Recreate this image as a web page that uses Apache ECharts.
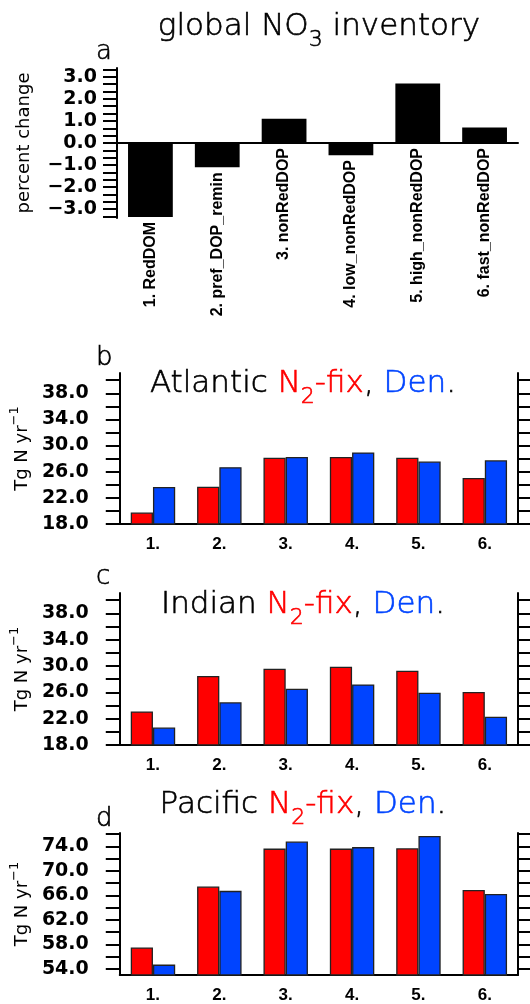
<!DOCTYPE html>
<html><head><meta charset="utf-8">
<script src="https://cdn.jsdelivr.net/npm/echarts@6/dist/echarts.min.js"></script>
<style>html,body{margin:0;padding:0;background:#fff}#c{width:530px;height:1004px}</style>
</head><body><div id="c"></div>
<script>
// ---- data ----
const experiments = ['1. RedDOM', '2. pref_DOP_remin', '3. nonRedDOP', '4. low_nonRedDOP', '5. high_nonRedDOP', '6. fast_nonRedDOP'];
const shortLabels = ['1.', '2.', '3.', '4.', '5.', '6.'];
const inventoryChange = [-3.35, -1.1, 1.1, -0.55, 2.7, 0.7];
const atlanticN2fix = [19.75, 23.7, 28.15, 28.25, 28.15, 25.05];
const atlanticDen   = [23.65, 26.7, 28.25, 28.95, 27.55, 27.75];
const indianN2fix   = [23.1, 28.5, 29.6, 29.9, 29.3, 26.05];
const indianDen     = [20.65, 24.5, 26.55, 27.2, 25.95, 22.3];
const pacificN2fix  = [57.5, 67.45, 73.65, 73.65, 73.7, 66.9];
const pacificDen    = [54.7, 66.75, 74.8, 73.9, 75.7, 66.25];
const inventoryTicks  = [-3.333, -3.0, -2.667, -2.333, -2.0, -1.667, -1.333, -1.0, -0.667, -0.333, 0, 0.333, 0.667, 1.0, 1.333, 1.667, 2.0, 2.333, 2.667, 3.0, 3.333];
const inventoryLabels = [-3, -2, -1, 0, 1, 2, 3];
const basinTicks   = [18, 20, 22, 24, 26, 28, 30, 32, 34, 36, 38, 40];
const basinLabels  = [18, 22, 26, 30, 34, 38];
const pacificTicks  = [54, 56, 58, 60, 62, 64, 66, 68, 70, 72, 74, 76];
const pacificLabels = [54, 58, 62, 66, 70, 74];

// ---- styles ----
const RED = '#ff0000', BLUE = '#0044ff';
const THIN = 'DejaVu Sans';
const fmt = v => (v < 0 ? '\u2212' : '') + Math.abs(v).toFixed(1);
const L = 117, R = 12;
const grids = [
  {left: L, right: R, top: 68, height: 150},
  {left: L, right: R, top: 373, height: 151},
  {left: L, right: R, top: 593, height: 152},
  {left: L, right: R, top: 833, height: 152}
];
const nameRich = {
  m: {fontFamily: THIN, fontSize: 18, color: '#000', lineHeight: 21, verticalAlign: 'top', padding: [5, 0, 0, 0]},
  s: {fontFamily: THIN, fontSize: 13, color: '#000', lineHeight: 15, verticalAlign: 'top'}
};
function leftAxis(gi, min, max, ticks, labels, name, margin, gap) {
  return {
    type: 'value', gridIndex: gi, position: 'left', min: min, max: max,
    axisLine: {show: true, onZero: false, lineStyle: {color: '#000', width: 2}},
    axisTick: {show: true, inside: false, length: 14, customValues: ticks, lineStyle: {color: '#000', width: 2}},
    axisLabel: {show: true, customValues: labels, formatter: fmt, margin: margin,
      fontFamily: 'DejaVu Sans', fontWeight: 'bold', fontSize: 19, color: '#000'},
    splitLine: {show: false},
    name: name, nameLocation: 'middle', nameRotate: 90, nameGap: gap,
    nameTextStyle: {rich: nameRich, fontFamily: THIN, fontSize: 18, color: '#000'}
  };
}
function rightAxis(gi, min, max, ticks) {
  return {
    type: 'value', gridIndex: gi, position: 'right', min: min, max: max,
    axisLine: {show: true, onZero: false, lineStyle: {color: '#000', width: 2}},
    axisTick: {show: true, inside: false, length: 13, customValues: ticks, lineStyle: {color: '#000', width: 2}},
    axisLabel: {show: false}, splitLine: {show: false}
  };
}
function bottomAxis(gi) {
  return {
    type: 'category', gridIndex: gi, data: shortLabels,
    axisLine: {show: true, onZero: false, lineStyle: {color: '#000', width: 2}},
    axisTick: {show: false},
    axisLabel: {margin: 12, fontFamily: 'Liberation Sans', fontWeight: 'bold', fontSize: 17, color: '#000'},
    splitLine: {show: false}
  };
}
const barStyle = c => ({color: c, borderColor: '#222', borderWidth: 1.3});
function pair(gi, a, b) {
  return [
    {type: 'bar', xAxisIndex: gi, yAxisIndex: 2 * gi - 1, data: a, barGap: '0%', barCategoryGap: '33%', itemStyle: barStyle(RED), silent: true},
    {type: 'bar', xAxisIndex: gi, yAxisIndex: 2 * gi - 1, data: b, barGap: '0%', barCategoryGap: '33%', itemStyle: barStyle(BLUE), silent: true}
  ];
}
const tok = (color, size, extra) => Object.assign({fontFamily: THIN, fontWeight: 200, fontSize: size, color: color,
  textBorderColor: color, textBorderWidth: 0.6, lineHeight: 36, verticalAlign: 'top'}, extra || {});
const titleRich = (size, sub) => ({
  k: tok('#000', size),
  r: tok(RED, size),
  b: tok(BLUE, size),
  rs: tok(RED, 22, {lineHeight: 22, padding: [sub, 0, 0, 0]}),
  ks: tok('#000', 22, {lineHeight: 22, padding: [sub, 0, 0, 0]})
});
function titleItem(text, x, y, size) {
  return {text: text, left: x, top: y, padding: 0, textAlign: 'center', textStyle: {rich: titleRich(size, 18)}};
}
function letter(t, y) {
  return {text: t, left: 96, top: y, padding: 0, textStyle: {fontFamily: THIN, fontWeight: 200, fontSize: 26, color: '#000',
    textBorderColor: '#000', textBorderWidth: 0.6, lineHeight: 28}};
}

const option = {
  backgroundColor: '#fff',
  animation: false,
  title: [
    titleItem('{k|global NO}{ks|3}{k| inventory}', 319, 11, 31),
    titleItem('{k|Atlantic }{r|N}{rs|2}{r|-fix}{k|, }{b|Den}{k|.}', 303, 368, 31),
    titleItem('{k|Indian }{r|N}{rs|2}{r|-fix}{k|, }{b|Den}{k|.}', 303, 589, 31),
    titleItem('{k|Pacific }{r|N}{rs|2}{r|-fix}{k|, }{b|Den}{k|.}', 303, 789, 31),
    letter('a', 38), letter('b', 344), letter('c', 563), letter('d', 805)
  ],
  grid: grids,
  xAxis: [
    {type: 'category', gridIndex: 0, data: experiments,
      axisLine: {show: true, onZero: true, lineStyle: {color: '#000', width: 2}},
      axisTick: {show: false}, axisLabel: {show: false}, splitLine: {show: false}},
    bottomAxis(1), bottomAxis(2), bottomAxis(3)
  ],
  yAxis: [
    leftAxis(0, -3.4, 3.4, inventoryTicks, inventoryLabels, 'percent change', 20, 84),
    leftAxis(1, 18, 41.1, basinTicks, basinLabels, '{m|Tg N yr}{s|\u22121}', 31, 86),
    rightAxis(1, 18, 41.1, basinTicks),
    leftAxis(2, 18, 41.1, basinTicks, basinLabels, '{m|Tg N yr}{s|\u22121}', 31, 86),
    rightAxis(2, 18, 41.1, basinTicks),
    leftAxis(3, 53, 76.2, pacificTicks, pacificLabels, '{m|Tg N yr}{s|\u22121}', 31, 86),
    rightAxis(3, 53, 76.2, pacificTicks)
  ],
  series: [
    {type: 'bar', xAxisIndex: 0, yAxisIndex: 0, data: inventoryChange, barCategoryGap: '33%',
      itemStyle: {color: '#000'}, silent: true,
      label: {show: true, position: 'bottom', distance: 5, rotate: 90, align: 'right', verticalAlign: 'middle',
        formatter: '{b}', fontFamily: 'Liberation Sans', fontWeight: 'bold', fontSize: 16, color: '#000'}},
    ...pair(1, atlanticN2fix, atlanticDen),
    ...pair(2, indianN2fix, indianDen),
    ...pair(3, pacificN2fix, pacificDen)
  ]
};
const chart = echarts.init(document.getElementById('c'), null, {renderer: 'canvas'});
chart.setOption(option);
</script></body></html>
